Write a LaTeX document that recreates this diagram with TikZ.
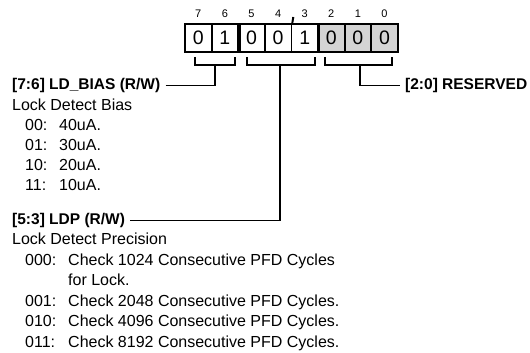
\documentclass[tikz,border=0pt]{standalone}
\usepackage{fontspec}
\setmainfont{Liberation Sans}
\begin{document}
\begin{tikzpicture}[x=1pt,y=-1pt,
  bitbox/.style={draw, line width=1.8pt, minimum width=26.6pt, minimum height=28pt, inner sep=0pt, font=\fontsize{19.5}{22}\selectfont},
  resbox/.style={bitbox, fill=black!17},
  bitnum/.style={inner sep=0pt, font=\fontsize{11}{13}\selectfont},
  lbl/.style={anchor=base west, inner sep=0pt, font=\fontsize{15.5}{19}\selectfont\bfseries},
  txt/.style={anchor=base west, inner sep=0pt, font=\fontsize{16}{19}\selectfont},
  brk/.style={line width=2pt},
  sep/.style={line width=3pt},
  conn/.style={line width=1.6pt}
]
\useasboundingbox (0,0) rectangle (530,353);
% boxes
\foreach \k/\b/\v in {0/7/0,1/6/1,2/5/0,3/4/0,4/3/1}{
  \node[bitbox] (b\b) at (198.3+26.6*\k,38) {\v};
  \node[bitnum] (n\b) at (198.3+26.6*\k,14) {\b};
}
\foreach \k/\b/\v in {5/2/0,6/1/0,7/0/0}{
  \node[resbox] (b\b) at (198.3+26.6*\k,38) {\v};
  \node[bitnum] (n\b) at (198.3+26.6*\k,14) {\b};
}
% field separators
\draw[sep] (b6.north east) -- (b6.south east);
\draw[sep] (b3.north east) -- (b3.south east);
% tick between bit 4 and 3
\coordinate (tick) at (293.3,17);
\draw[brk] (b4.north east) -- (tick);
% brackets
\coordinate (a1) at (195,57); \coordinate (a2) at (235,57);
\coordinate (m1) at (247,57); \coordinate (m2) at (315,57);
\coordinate (r1) at (325,57); \coordinate (r2) at (392,57);
\draw[brk] (a1) -- (195,65) -- (235,65) -- (a2);
\draw[brk] (m1) -- (247,65) -- (315,65) -- (m2);
\draw[brk] (r1) -- (325,65) -- (392,65) -- (r2);
\coordinate (sa) at (215,65);
\coordinate (sm) at (280,65);
\coordinate (sr) at (360,65);
% labels
\node[lbl] (ldbias) at (12,89.5) {[7:6] LD\_BIAS (R/W)};
\node[lbl] (resv) at (405,89.5) {[2:0] RESERVED};
\node[lbl] (ldp) at (12,224.5) {[5:3] LDP (R/W)};
\draw[conn] ([xshift=5pt]ldbias.east) -| (sa);
\draw[conn] (sr) |- ([xshift=-5pt]resv.west);
\draw[conn] ([xshift=5pt]ldp.east) -| (sm);
% LD_BIAS text
\node[txt] (t1) at (12,110.5) {Lock Detect Bias};
\node[txt] (c00) at (25,130.5) {00:};  \node[txt] (v00) at (59,130.5) {40uA.};
\node[txt] (c01) at (25,150.5) {01:};  \node[txt] (v01) at (59,150.5) {30uA.};
\node[txt] (c10) at (25,170.5) {10:};  \node[txt] (v10) at (59,170.5) {20uA.};
\node[txt] (c11) at (25,190.5) {11:};  \node[txt] (v11) at (59,190.5) {10uA.};
% LDP text
\node[txt] (t2) at (12,244.5) {Lock Detect Precision};
\node[txt] (d000) at (25,265) {000:}; \node[txt] (e000) at (68,265) {Check 1024 Consecutive PFD Cycles};
\node[txt] (e000b) at (68,285.5) {for Lock.};
\node[txt] (d001) at (25,306) {001:}; \node[txt] (e001) at (68,306) {Check 2048 Consecutive PFD Cycles.};
\node[txt] (d010) at (25,326.5) {010:}; \node[txt] (e010) at (68,326.5) {Check 4096 Consecutive PFD Cycles.};
\node[txt] (d011) at (25,347) {011:}; \node[txt] (e011) at (68,347) {Check 8192 Consecutive PFD Cycles.};
\end{tikzpicture}
\end{document}
